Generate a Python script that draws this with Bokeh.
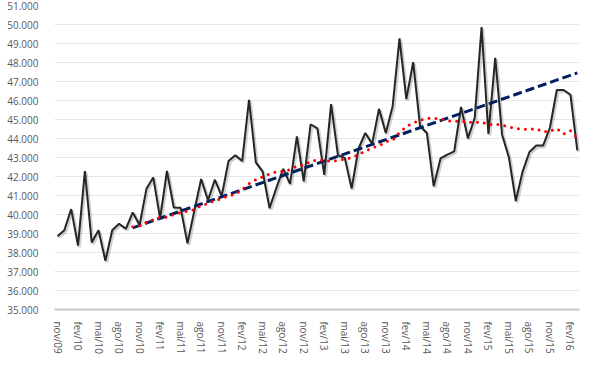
from bokeh.plotting import figure
from bokeh.models import Range1d, FixedTicker
from bokeh.embed import file_html
from bokeh.resources import INLINE

# ---- data ----
months = [
    "nov/09", "dez/09",
    "jan/10", "fev/10", "mar/10", "abr/10", "mai/10", "jun/10", "jul/10", "ago/10", "set/10", "out/10", "nov/10", "dez/10",
    "jan/11", "fev/11", "mar/11", "abr/11", "mai/11", "jun/11", "jul/11", "ago/11", "set/11", "out/11", "nov/11", "dez/11",
    "jan/12", "fev/12", "mar/12", "abr/12", "mai/12", "jun/12", "jul/12", "ago/12", "set/12", "out/12", "nov/12", "dez/12",
    "jan/13", "fev/13", "mar/13", "abr/13", "mai/13", "jun/13", "jul/13", "ago/13", "set/13", "out/13", "nov/13", "dez/13",
    "jan/14", "fev/14", "mar/14", "abr/14", "mai/14", "jun/14", "jul/14", "ago/14", "set/14", "out/14", "nov/14", "dez/14",
    "jan/15", "fev/15", "mar/15", "abr/15", "mai/15", "jun/15", "jul/15", "ago/15", "set/15", "out/15", "nov/15", "dez/15",
    "jan/16", "fev/16", "mar/16",
]

values = [
    38860, 39170, 40280, 38360, 42290, 38530, 39170, 37570, 39170, 39510,
    39250, 40110, 39450, 41350, 41950, 39800, 42290, 40370, 40350, 38480,
    40200, 41870, 40750, 41830, 40970, 42810, 43120, 42810, 46040, 42740,
    42260, 40330, 41400, 42400, 41610, 44110, 41740, 44750, 44530, 42090,
    45810, 43120, 42980, 41370, 43460, 44290, 43720, 45560, 44290, 45700,
    49270, 46070, 48020, 44660, 44290, 41490, 42950, 43150, 43320, 45660,
    44010, 45090, 49860, 44240, 48240, 44200, 43000, 40710, 42260, 43290,
    43630, 43630, 44580, 46550, 46550, 46300, 43380,
]

# 12-month moving average (from out/10 to mar/16)
moving_avg = [
    39360, 39410, 39590, 39730, 39850, 39850, 40000, 40100, 40170, 40260,
    40460, 40580, 40720, 40850, 40970, 41070, 41320, 41630, 41830, 41990,
    42140, 42240, 42290, 42360, 42550, 42610, 42780, 42890, 42830, 42810,
    42850, 42910, 42990, 43160, 43320, 43500, 43620, 43830, 43910, 44310,
    44640, 44820, 44950, 45060, 45070, 45030, 44930, 44900, 44910, 44880,
    44830, 44880, 44730, 44750, 44710, 44600, 44540, 44480, 44490, 44520,
    44350, 44390, 44520, 44240, 44410, 44010,
]

# linear trend line end points
trend_months = ["out/10", "mar/16"]
trend_values = [39300, 47450]

y_ticks = list(range(35000, 51001, 1000))
tick_step = 3

# ---- derived positions ----
x_all = list(range(len(months)))
ma_x = x_all[len(months) - len(moving_avg):]
trend_x = [months.index(m) for m in trend_months]
x_ticks = x_all[::tick_step]

FONT = "Open Sans"
TXT = "#595959"

p = figure(
    width=582, height=356,
    output_backend="svg", toolbar_location=None,
    x_range=Range1d(-0.44, 76.32), y_range=Range1d(35000, 51000),
    min_border_left=54, min_border_top=5, min_border_right=3, min_border_bottom=46,
)
p.background_fill_color = "white"
p.border_fill_color = "white"
p.outline_line_color = None

# shadow ranges (slight offset down-right, like the Excel line shadow)
p.extra_x_ranges = {"sh": Range1d(-0.44 - 0.2, 76.32 - 0.2)}
p.extra_y_ranges = {"sh": Range1d(35000 + 80, 51000 + 80)}

# grid
p.xgrid.grid_line_color = None
p.ygrid.grid_line_color = "#e6e6e6"
p.ygrid.grid_line_width = 1
p.ygrid.ticker = FixedTicker(ticks=y_ticks)

# y axis
p.yaxis.ticker = FixedTicker(ticks=y_ticks)
p.yaxis.major_label_overrides = {t: f"{t:,}".replace(",", ".") for t in y_ticks}
p.yaxis.axis_line_color = None
p.yaxis.major_tick_line_color = None
p.yaxis.minor_tick_line_color = None
p.yaxis.major_label_standoff = 10
p.yaxis.major_label_text_font = FONT
p.yaxis.major_label_text_font_size = "10px"
p.yaxis.major_label_text_color = TXT

# x axis
p.xaxis.ticker = FixedTicker(ticks=x_ticks)
p.xaxis.major_label_overrides = {i: months[i] for i in x_ticks}
p.xaxis.major_label_orientation = "vertical"
p.xaxis.axis_line_color = "#c8c8c8"
p.xaxis.axis_line_width = 2
p.xaxis.major_tick_line_color = None
p.xaxis.minor_tick_line_color = None
p.xaxis.major_label_standoff = 6
p.xaxis.major_label_text_font = FONT
p.xaxis.major_label_text_font_size = "10px"
p.xaxis.major_label_text_color = TXT

# series
p.line(x_all, values, line_color="black", line_alpha=0.18, line_width=3,
       x_range_name="sh", y_range_name="sh")
p.line(x_all, values, line_color="#262626", line_width=2)
p.line(trend_x, trend_values, line_color="#002060", line_width=3, line_dash="9 4")
p.line(ma_x, moving_avg, line_color="#ff0000", line_width=3, line_dash="0 7", line_cap="round")

open("out.html", "w").write(file_html(p, INLINE))
